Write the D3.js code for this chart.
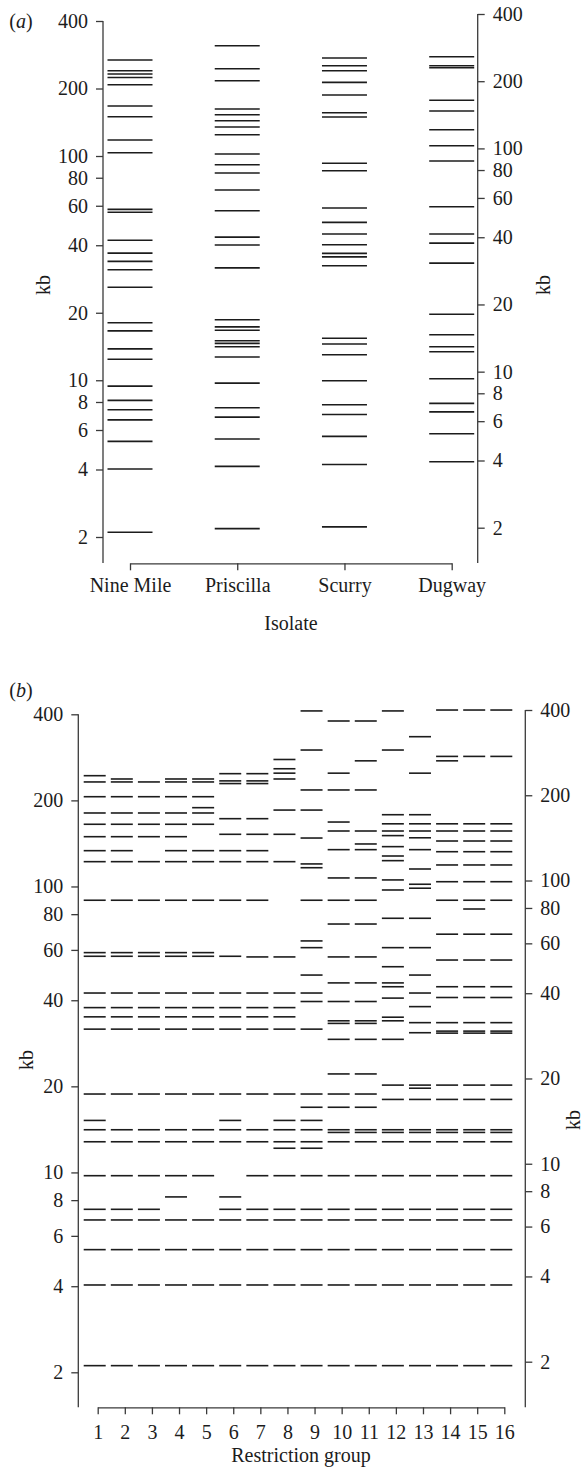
<!DOCTYPE html>
<html>
<head>
<meta charset="utf-8">
<script src="https://cdn.jsdelivr.net/npm/d3@7"></script>
<style>
  html, body { margin: 0; padding: 0; background: #fff; }
  svg { display: block; font-family: "Liberation Serif", "DejaVu Serif", serif; }
</style>
</head>
<body>
<div id="chart"></div>
<script>
// ---- data: fragment sizes (kb) ----
var kbTicks = [2, 4, 6, 8, 10, 20, 40, 60, 80, 100, 200, 400];

// (a) isolates
var isolates = ["Nine Mile", "Priscilla", "Scurry", "Dugway"];
var nineMile = [268, 240, 232, 224, 208, 167, 149.7, 117.8, 103.4, 57.8, 56.1, 42.1, 36.9, 33.9, 31.1, 26.0,
  18.05, 16.6, 13.8, 12.4, 9.42, 8.13, 7.39, 6.66, 5.34, 4.02, 2.10];
var priscilla = [310, 245, 216.6, 162, 152.8, 143.7, 134.7, 124.4, 102.1, 91.4, 84.0, 70.5, 57.0, 43.5, 40.1, 31.7,
  18.6, 17.3, 16.7, 15.0, 14.6, 14.1, 12.7, 9.71, 7.54, 6.85, 5.47, 4.13, 2.18];
var scurry = [273.5, 252.7, 240, 213.1, 187.1, 156, 149.3, 92.8, 86.0, 58.6, 50.6, 44.9, 40.2, 36.8, 35.5, 32.4,
  15.4, 14.5, 13.0, 9.95, 7.78, 7.04, 5.62, 4.21, 2.22];
var dugway = [277, 252.7, 247.6, 177.2, 158.7, 131, 111.1, 95.0, 59.4, 44.9, 40.9, 33.3,
  19.7, 15.95, 14.1, 13.4, 10.15, 7.89, 7.23, 5.77, 4.33];

// (b) restriction groups
var groups = ["1", "2", "3", "4", "5", "6", "7", "8", "9", "10", "11", "12", "13", "14", "15", "16"];
var rg1 = [244, 232, 206, 180.7, 165, 149.3, 133.4, 122.1, 89.5, 58.7, 57.0, 42.4, 37.7, 35.0, 31.7, 18.8, 15.2, 14.1, 12.8, 9.74, 7.43, 6.82, 5.37, 4.04, 2.11];
var rg2 = [237.6, 232, 206, 180.7, 165, 149.3, 133.4, 122.1, 89.5, 58.7, 57.0, 42.4, 37.7, 35.0, 31.7, 18.8, 14.1, 12.8, 9.74, 7.43, 6.82, 5.37, 4.04, 2.11];
var rg3 = [232, 206, 180.7, 165, 149.3, 122.1, 89.5, 58.7, 57.0, 42.4, 37.7, 35.0, 31.7, 18.8, 14.1, 12.8, 9.74, 7.43, 6.82, 5.37, 4.04, 2.11];
var rg4 = [237.6, 232, 206, 180.7, 165, 149.3, 133.4, 122.1, 89.5, 58.7, 57.0, 42.4, 37.7, 35.0, 31.7, 18.8, 14.1, 12.8, 9.74, 8.21, 6.82, 5.37, 4.04, 2.11];
var rg5 = [237.6, 232, 206, 188.6, 180.7, 165, 133.4, 122.1, 89.5, 58.7, 57.0, 42.4, 37.7, 35.0, 31.7, 18.8, 14.1, 12.8, 9.74, 6.82, 5.37, 4.04, 2.11];
var rg6 = [248, 234, 229, 172.6, 152.2, 133.4, 122.1, 89.5, 57.0, 42.4, 37.7, 35.0, 31.7, 18.8, 15.2, 14.1, 12.8, 8.21, 7.43, 6.82, 5.37, 4.04, 2.11];
var rg7 = [248, 234, 229, 172.6, 152.2, 133.4, 122.1, 89.5, 56.7, 42.4, 37.7, 35.0, 31.7, 18.8, 14.1, 12.8, 9.74, 7.43, 6.82, 5.37, 4.04, 2.11];
var rg8 = [278, 258, 249, 237.6, 185, 152.2, 122.1, 56.7, 42.4, 37.7, 35.0, 31.7, 18.8, 15.2, 14.1, 12.8, 12.15, 9.74, 7.43, 6.82, 5.37, 4.04, 2.11];
var rg9 = [411, 300, 217.5, 185, 147.7, 119.9, 116.3, 89.5, 64.5, 61.1, 49.0, 42.4, 39.6, 31.7, 18.8, 16.9, 15.2, 14.1, 12.8, 12.15, 9.74, 7.43, 6.82, 5.37, 4.04, 2.11];
var rg10 = [379, 249, 217.5, 168, 156.3, 134.5, 107.1, 89.5, 73.9, 56.7, 46.0, 39.6, 33.9, 33.2, 29.2, 22.1, 18.8, 16.9, 14.1, 13.8, 12.8, 9.74, 7.43, 6.82, 5.37, 4.04, 2.11];
var rg11 = [379, 275, 217.5, 156.3, 140.8, 134.5, 107.1, 89.5, 73.9, 56.7, 46.0, 39.6, 33.9, 33.2, 29.2, 22.1, 18.8, 16.9, 14.1, 13.8, 12.8, 9.74, 7.43, 6.82, 5.37, 4.04, 2.11];
var rg12 = [411, 300, 178.2, 165.6, 156.3, 150.6, 137.8, 127.8, 123.1, 105.4, 97.2, 77.4, 61.1, 52.4, 46.0, 44.6, 40.7, 34.9, 33.9, 29.2, 20.2, 18.0, 14.1, 13.8, 12.8, 9.74, 7.43, 6.82, 5.37, 4.04, 2.11];
var rg13 = [334, 249, 178.2, 165.6, 156.3, 148, 134.5, 115.1, 101.8, 98.6, 77.4, 61.1, 49.0, 42.4, 38.0, 33.4, 30.8, 20.2, 19.7, 18.0, 14.1, 13.8, 12.8, 9.74, 7.43, 6.82, 5.37, 4.04, 2.11];
var rg14 = [414, 285, 275, 165.6, 156.3, 144.2, 132.3, 118.9, 103.9, 89.5, 68.1, 55.3, 44.6, 40.9, 33.4, 31.2, 30.7, 20.2, 18.0, 14.1, 13.8, 12.8, 9.74, 7.43, 6.82, 5.37, 4.04, 2.11];
var rg15 = [414, 285, 165.6, 156.3, 144.2, 132.3, 118.9, 103.9, 89.5, 83.4, 68.1, 55.3, 44.6, 40.9, 33.4, 31.2, 30.7, 20.2, 18.0, 14.1, 13.8, 12.8, 9.74, 7.43, 6.82, 5.37, 4.04, 2.11];
var rg16 = [414, 285, 165.6, 156.3, 144.2, 132.3, 118.9, 103.9, 89.5, 68.1, 55.3, 44.6, 40.9, 33.4, 31.2, 30.7, 20.2, 18.0, 14.1, 13.8, 12.8, 9.74, 7.43, 6.82, 5.37, 4.04, 2.11];

var isolateBands = [nineMile, priscilla, scurry, dugway];
var groupBands = [rg1, rg2, rg3, rg4, rg5, rg6, rg7, rg8, rg9, rg10, rg11, rg12, rg13, rg14, rg15, rg16];

// ---- drawing ----
var W = 587, H = 1474;
var INK = "#1c1c1c", AXIS = "#3a3a3a", FS = 20;

var svg = d3.select("#chart").append("svg")
  .attr("width", W).attr("height", H)
  .attr("viewBox", "0 0 " + W + " " + H);

function styleAxis(g) {
  g.attr("font-family", null).attr("font-size", FS);
  g.selectAll("line").attr("stroke", AXIS).attr("stroke-width", 1.3);
  g.selectAll("path").attr("stroke", AXIS).attr("stroke-width", 1.3);
  g.selectAll("text").attr("fill", INK);
}

function yAxis(x, scale, bottom, side) {
  var ax = (side === "left" ? d3.axisLeft(scale) : d3.axisRight(scale))
    .tickValues(kbTicks).tickFormat(d3.format("d"))
    .tickSize(7).tickPadding(8);
  var g = svg.append("g").attr("transform", "translate(" + x + ",0)").call(ax);
  g.select(".domain").remove();
  g.append("line")
    .attr("x1", 0).attr("x2", 0)
    .attr("y1", scale(400)).attr("y2", bottom);
  styleAxis(g);
  return g;
}

function xAxis(scale, y, pad) {
  var g = svg.append("g").attr("transform", "translate(0," + y + ")")
    .call(d3.axisBottom(scale).tickSize(7).tickSizeOuter(0).tickPadding(pad));
  styleAxis(g);
  return g;
}

function bands(scaleX, scaleY, lanes, data, w, dx) {
  var flat = [];
  data.forEach(function (arr, i) {
    arr.forEach(function (kb) { flat.push({ lane: lanes[i], kb: kb }); });
  });
  svg.append("g").selectAll("line")
    .data(flat)
    .join("line")
    .attr("x1", function (d) { return scaleX(d.lane) + dx - w / 2; })
    .attr("x2", function (d) { return scaleX(d.lane) + dx + w / 2; })
    .attr("y1", function (d) { return scaleY(d.kb); })
    .attr("y2", function (d) { return scaleY(d.kb); })
    .attr("stroke", INK)
    .attr("stroke-width", 1.6);
}

function label(txt, x, y, opts) {
  opts = opts || {};
  var t = svg.append("text")
    .attr("x", x).attr("y", y)
    .attr("font-size", FS)
    .attr("fill", INK)
    .attr("text-anchor", opts.anchor || "middle");
  if (opts.rotate) t.attr("transform", "rotate(-90," + x + "," + y + ")");
  if (opts.italic) {
    t.append("tspan").text("(");
    t.append("tspan").attr("font-style", "italic").text(txt);
    t.append("tspan").text(")");
  } else {
    t.text(txt);
  }
  return t;
}

// ---- panel (a) ----
var yA = d3.scaleLog().domain([400, 2]).range([21, 537]);
var yAR = d3.scaleLog().domain([400, 2]).range([14, 527.7]);
var xA = d3.scalePoint().domain(isolates).range([130, 451.7]);

yAxis(103, yA, 563, "left");
yAxis(477.7, yAR, 563, "right");
xAxis(xA, 563.3, 8);
bands(xA, yA, isolates, isolateBands, 45, 0);

label("a", 21, 28, { italic: true });
label("kb", 50, 285, { rotate: true });
label("kb", 550, 285, { rotate: true });
label("Isolate", 291, 630);

// ---- panel (b) ----
var yB = d3.scaleLog().domain([400, 2]).range([714.3, 1372.3]);
var yBR = d3.scaleLog().domain([400, 2]).range([710, 1361.7]);
var xB = d3.scalePoint().domain(groups).range([97.7, 504.3]);

yAxis(78.3, yB, 1407.3, "left");
yAxis(525.3, yBR, 1407.3, "right");
xAxis(xB, 1407.3, 11);
bands(xB, yB, groups, groupBands, 22, -3);

label("b", 21, 697, { italic: true });
label("kb", 33, 1060, { rotate: true });
label("kb", 580, 1120, { rotate: true });
label("Restriction group", 301, 1462);
</script>
</body>
</html>
